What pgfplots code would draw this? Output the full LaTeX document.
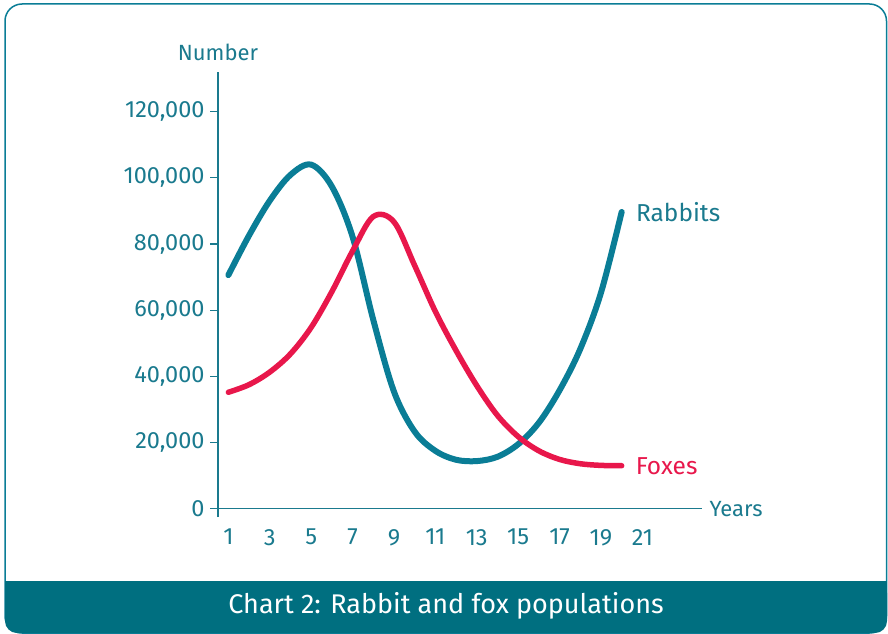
\documentclass[border=0pt]{standalone}
\usepackage{fontspec}
\setmainfont{Fira Sans}
\usepackage{pgfplots}
\pgfplotsset{compat=1.18}
\definecolor{teal1}{HTML}{0A7D96}
\definecolor{txt}{HTML}{1A7A8E}
\definecolor{fox}{HTML}{E8174B}
\definecolor{banner}{HTML}{006F80}
\begin{document}
\begin{tikzpicture}[x=1pt,y=1pt]
\useasboundingbox (0,0) rectangle (888,633);
\draw[teal1, line width=1.5pt, rounded corners=17pt] (5,0) rectangle (886.5,629);
\fill[banner, rounded corners=12pt] (5,0) rectangle (887,52);
\fill[banner] (5,30) rectangle (887,52);
\node[white, font=\fontsize{27}{30}\selectfont] at (446,27) {Chart 2: Rabbit and fox populations};
\begin{axis}[
  at={(218pt,116pt)}, anchor=south west,
  scale only axis, width=484pt, height=445pt,
  xmin=0.5, xmax=23.88, ymin=-2500, ymax=132000,
  axis x line=middle, axis y line=left,
  axis line style={txt, line width=1.2pt, -},
  hide obscured x ticks=false, hide obscured y ticks=false,
  xtick={1,3,...,21}, ytick={0,20000,...,120000},
  x tick style={draw=none},
  y tick style={txt, line width=1.2pt},
  tick align=outside, major tick length=8pt,
  ticklabel style={txt, font=\fontsize{23.5}{26}\selectfont},
  xticklabel style={yshift=-9pt},
  yticklabel style={xshift=-2pt},
  /pgf/number format/.cd, fixed, 1000 sep={,}, assume math mode=true,
  /pgfplots/.cd,
  scaled y ticks=false,
  xlabel={Years}, ylabel={Number},
  label style={txt, font=\fontsize{22}{24}\selectfont},
  xlabel style={at={(axis description cs:1,0.0186)}, anchor=west, xshift=4pt},
  ylabel style={at={(axis description cs:0,1)}, rotate=-90, anchor=south, yshift=8pt},
  clip=false,
]
\addplot[teal1, line width=6pt, line cap=round, smooth, tension=0.55] coordinates {
 (1,70600) (2,82600) (3,93100) (4,100900) (5,104000) (6,97400) (7,82200)
 (8,57100) (9,35400) (10,23300) (11,17500) (12,14800) (13,14400) (14,15700)
 (15,19500) (16,26000) (17,35800) (18,48300) (19,65300) (20,89700)
} node[pos=1, anchor=west, xshift=8pt, txt, font=\fontsize{24.5}{26}\selectfont] {Rabbits};
\addplot[fox, line width=5.5pt, line cap=round, smooth, tension=0.55] coordinates {
 (1,35200) (2,37500) (3,41300) (4,46800) (5,54800) (6,65600) (7,77900)
 (8,88300) (9,86700) (10,73500) (11,59600) (12,47800) (13,37200) (14,28200)
 (15,21800) (16,17500) (17,14900) (18,13600) (19,13100) (20,13000)
} node[pos=1, anchor=west, xshift=8pt, fox, font=\fontsize{24.5}{26}\selectfont] {Foxes};
\end{axis}
\end{tikzpicture}
\end{document}
